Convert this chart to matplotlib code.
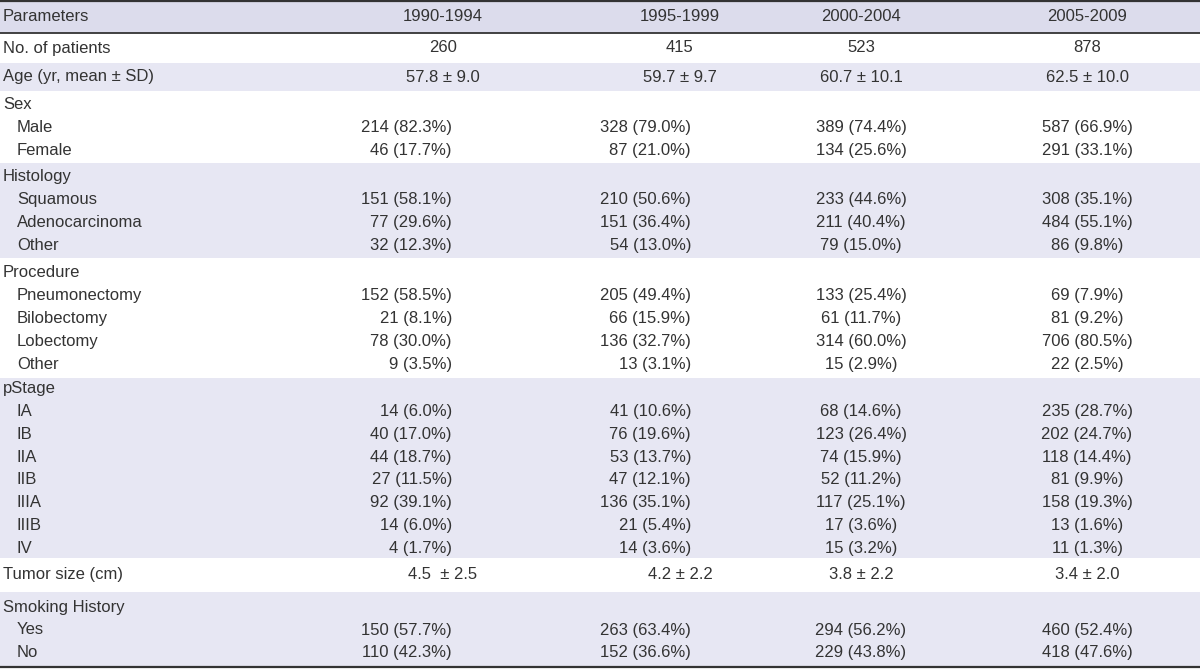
import matplotlib.pyplot as plt

# ----------------------------
# Table contents
# ----------------------------
periods = ['1990-1994', '1995-1999', '2000-2004', '2005-2009']

n_patients = ['260', '415', '523', '878']
age = ['57.8 \u00b1 9.0', '59.7 \u00b1 9.7', '60.7 \u00b1 10.1', '62.5 \u00b1 10.0']
tumor_size = ['4.5  \u00b1 2.5', '4.2 \u00b1 2.2', '3.8 \u00b1 2.2', '3.4 \u00b1 2.0']

sex_labels = ['Male', 'Female']
sex_vals = [
    ['214 (82.3%)', '328 (79.0%)', '389 (74.4%)', '587 (66.9%)'],
    ['46 (17.7%)', '87 (21.0%)', '134 (25.6%)', '291 (33.1%)'],
]

hist_labels = ['Squamous', 'Adenocarcinoma', 'Other']
hist_vals = [
    ['151 (58.1%)', '210 (50.6%)', '233 (44.6%)', '308 (35.1%)'],
    ['77 (29.6%)', '151 (36.4%)', '211 (40.4%)', '484 (55.1%)'],
    ['32 (12.3%)', '54 (13.0%)', '79 (15.0%)', '86 (9.8%)'],
]

proc_labels = ['Pneumonectomy', 'Bilobectomy', 'Lobectomy', 'Other']
proc_vals = [
    ['152 (58.5%)', '205 (49.4%)', '133 (25.4%)', '69 (7.9%)'],
    ['21 (8.1%)', '66 (15.9%)', '61 (11.7%)', '81 (9.2%)'],
    ['78 (30.0%)', '136 (32.7%)', '314 (60.0%)', '706 (80.5%)'],
    ['9 (3.5%)', '13 (3.1%)', '15 (2.9%)', '22 (2.5%)'],
]

stage_labels = ['IA', 'IB', 'IIA', 'IIB', 'IIIA', 'IIIB', 'IV']
stage_vals = [
    ['14 (6.0%)', '41 (10.6%)', '68 (14.6%)', '235 (28.7%)'],
    ['40 (17.0%)', '76 (19.6%)', '123 (26.4%)', '202 (24.7%)'],
    ['44 (18.7%)', '53 (13.7%)', '74 (15.9%)', '118 (14.4%)'],
    ['27 (11.5%)', '47 (12.1%)', '52 (11.2%)', '81 (9.9%)'],
    ['92 (39.1%)', '136 (35.1%)', '117 (25.1%)', '158 (19.3%)'],
    ['14 (6.0%)', '21 (5.4%)', '17 (3.6%)', '13 (1.6%)'],
    ['4 (1.7%)', '14 (3.6%)', '15 (3.2%)', '11 (1.3%)'],
]

smoke_labels = ['Yes', 'No']
smoke_vals = [
    ['150 (57.7%)', '263 (63.4%)', '294 (56.2%)', '460 (52.4%)'],
    ['110 (42.3%)', '152 (36.6%)', '229 (43.8%)', '418 (47.6%)'],
]

# blocks: (title, single-row values or None, sub labels, sub values, shaded, height px)
blocks = [
    ('No. of patients', n_patients, [], [], False, 30),
    ('Age (yr, mean \u00b1 SD)', age, [], [], True, 28),
    ('Sex', None, sex_labels, sex_vals, False, 71.5),
    ('Histology', None, hist_labels, hist_vals, True, 95),
    ('Procedure', None, proc_labels, proc_vals, False, 120),
    ('pStage', None, stage_labels, stage_vals, True, 180),
    ('Tumor size (cm)', tumor_size, [], [], False, 34),
    ('Smoking History', None, smoke_labels, smoke_vals, True, 75),
]

# ----------------------------
# Style
# ----------------------------
plt.rcParams['font.family'] = ['Liberation Sans', 'DejaVu Sans']

COL_TXT = '#333333'
COL_HEAD = '#dcdcec'
COL_BAND = '#e7e7f3'
COL_LINE = '#333333'
FS = 12

W, H = 1200, 669
HEAD_H = 33
COL_CENTER = [443, 680, 861, 1087]
# cols 1-2 are right aligned for counts, cols 3-4 centred
COL_COUNT = [(452, 'right'), (691, 'right'), (861, 'center'), (1087, 'center')]
PITCH = 22.8

fig = plt.figure(figsize=(W / 100, H / 100), dpi=100)
ax = fig.add_axes([0, 0, 1, 1])
ax.set_xlim(0, W)
ax.set_ylim(H, 0)
ax.axis('off')

# header
ax.axhspan(0, HEAD_H, color=COL_HEAD, lw=0)
ax.text(3, HEAD_H / 2, 'Parameters', fontsize=FS, color=COL_TXT, va='center', ha='left')
for x, p in zip(COL_CENTER, periods):
    ax.text(x, HEAD_H / 2, p, fontsize=FS, color=COL_TXT, va='center', ha='center')

top = HEAD_H
for title, single, sublabels, subvals, shaded, h in blocks:
    if shaded:
        ax.axhspan(top, top + h, color=COL_BAND, lw=0)
    if single is not None:
        yc = top + h / 2
        ax.text(3, yc, title, fontsize=FS, color=COL_TXT, va='center', ha='left')
        for x, v in zip(COL_CENTER, single):
            ax.text(x, yc, v, fontsize=FS, color=COL_TXT, va='center', ha='center')
    else:
        n = len(sublabels) + 1
        y0 = top + h / 2 - PITCH * (n - 1) / 2 + 1
        ax.text(3, y0, title, fontsize=FS, color=COL_TXT, va='center', ha='left')
        for i, (lab, vals) in enumerate(zip(sublabels, subvals)):
            yi = y0 + PITCH * (i + 1)
            ax.text(17, yi, lab, fontsize=FS, color=COL_TXT, va='center', ha='left')
            for (x, al), v in zip(COL_COUNT, vals):
                ax.text(x, yi, v, fontsize=FS, color=COL_TXT, va='center', ha=al)
    top += h

# rules
ax.axhline(0.8, color=COL_LINE, lw=1.6)
ax.axhline(HEAD_H, color=COL_LINE, lw=1.3)
ax.axhline(top, color=COL_LINE, lw=1.6)

fig.savefig('out.png', dpi=100)
